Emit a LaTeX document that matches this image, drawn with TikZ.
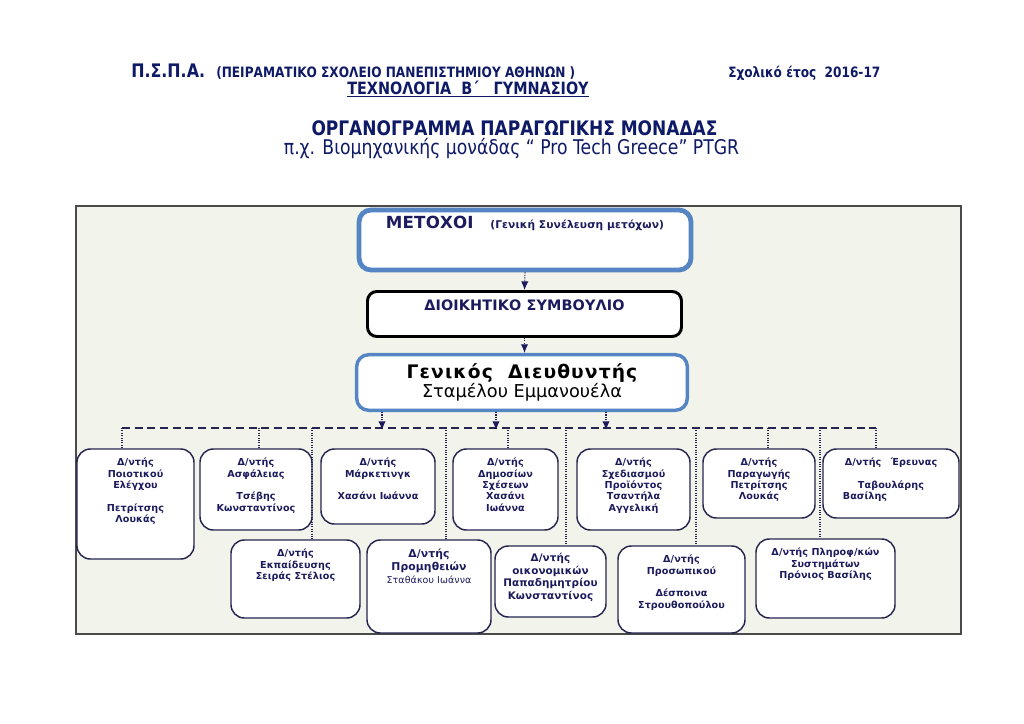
\documentclass[tikz,border=0pt]{standalone}
\usepackage{fontspec}
\setmainfont{DejaVu Sans}
\newfontfamily\boxfont[LetterSpace=1]{DejaVu Sans}
\newfontfamily\widefont[LetterSpace=6]{DejaVu Sans}
\newfontfamily\headfont[FakeStretch=0.85]{DejaVu Sans}
\usepackage{tikz}
\usetikzlibrary{arrows.meta,positioning}
\definecolor{NavyText}{HTML}{1B1B5E}
\definecolor{TitleNavy}{HTML}{0F1A66}
\definecolor{BoxLine}{HTML}{25254F}
\definecolor{BlueFrame}{HTML}{5585C2}
\definecolor{PanelBG}{HTML}{F2F4EB}
\definecolor{PanelLine}{HTML}{4A4A4A}
\tikzset{
  deptbox/.style={draw=BoxLine, line width=1.1pt, rounded corners=10pt, fill=white, inner sep=0pt},
  deptlabel/.style={anchor=north, yshift=-7pt, inner sep=0pt, align=center, text=NavyText,
    font=\boxfont\bfseries\fontsize{7.2}{8.6}\selectfont},
  feed/.style={densely dotted, NavyText, line width=0.8pt, -{Latex[length=6.5pt,width=5.5pt]}},
  bus/.style={dash pattern=on 6pt off 3.5pt, BoxLine, line width=0.9pt},
  drop/.style={densely dotted, BoxLine, line width=0.8pt},
  headtext/.style={inner sep=0pt, text=TitleNavy, font=\headfont\bfseries\fontsize{10.7}{12}\selectfont}
}

\begin{document}
\begin{tikzpicture}[x=0.75pt, y=-0.75pt, every node/.style={text=NavyText}]
  \fill[white] (0,0) rectangle (1024,724);
  \useasboundingbox (0,0) rectangle (1024,724);

  % heading
  \node[headtext, font=\headfont\bfseries\fontsize{14}{16}\selectfont, anchor=base west]
    (pspa) at (131,78) {Π.Σ.Π.Α.};
  \node[headtext, anchor=base west] (school) at (216,78)
    {(ΠΕΙΡΑΜΑΤΙΚΟ ΣΧΟΛΕΙΟ ΠΑΝΕΠΙΣΤΗΜΙΟΥ ΑΘΗΝΩΝ )};
  \node[headtext, anchor=base west] (year) at (728,78) {Σχολικό έτος\ \ 2016-17};
  \node[headtext, font=\headfont\bfseries\fontsize{12.7}{14}\selectfont, anchor=base]
    (tech) at (468,94) {\underline{ΤΕΧΝΟΛΟΓΙΑ\ \ Β΄\ \ \ ΓΥΜΝΑΣΙΟΥ}};
  \node[headtext, font=\headfont\bfseries\fontsize{15}{17}\selectfont, anchor=base]
    (title) at (514.5,135) {ΟΡΓΑΝΟΓΡΑΜΜΑ ΠΑΡΑΓΩΓΙΚΗΣ ΜΟΝΑΔΑΣ};
  \node[headtext, font=\headfont\fontsize{15.2}{17}\selectfont, anchor=base]
    (subtitle) at (511.5,154) {π.χ. Βιομηχανικής μονάδας “ Pro Tech Greece” PTGR};

  \draw[PanelLine, fill=PanelBG, line width=1.2pt] (76,206) rectangle (961,634);

  % top of the chart
  \node[draw=BlueFrame, line width=3.6pt, rounded corners=9pt, fill=white, inner sep=0pt,
    minimum width=249pt, minimum height=45pt,
    label={[anchor=north, yshift=-6.5pt, inner sep=0pt, text=NavyText,
      font=\boxfont\bfseries\fontsize{12.5}{14}\selectfont]north:{ΜΕΤΟΧΟΙ\quad{\fontsize{8}{9}\selectfont(Γενική Συνέλευση μετόχων)}}}]
    (met) at (525,240) {};
  \node[draw=black, line width=2.2pt, rounded corners=7pt, fill=white, inner sep=0pt,
    minimum width=235.5pt, minimum height=33.75pt,
    label={[anchor=north, yshift=-7.5pt, inner sep=0pt, text=NavyText,
      font=\boxfont\bfseries\fontsize{10.8}{12}\selectfont]north:{ΔΙΟΙΚΗΤΙΚΟ ΣΥΜΒΟΥΛΙΟ}}]
    (dioik) at (524.5,314) {};
  \node[draw=BlueFrame, line width=2.6pt, rounded corners=9pt, fill=white, inner sep=0pt,
    minimum width=248pt, minimum height=41.7pt, align=center, text=black,
    font=\widefont\fontsize{14}{14.25}\selectfont]
    (gd) at (522,382.5) {{\bfseries Γενικός\ \ Διευθυντής}\\{\rmfamily\fontsize{13.3}{14}\selectfont Σταμέλου Εμμανουέλα}};

  \draw[feed] (met.south) -- (dioik.north);
  \draw[feed] (dioik.south) -- (dioik.south |- gd.north);

  % departments, first row
  \node[deptbox, minimum width=87.75pt, minimum height=82.5pt,
    label={[deptlabel]north:{Δ/ντής\\Ποιοτικού\\Ελέγχου\\[8.6pt]Πετρίτσης\\Λουκάς}}]
    (p1) at (135.5,504) {};
  \node[deptbox, minimum width=84pt, minimum height=60.75pt,
    label={[deptlabel]north:{Δ/ντής\\Ασφάλειας\\[8.6pt]Τσέβης\\Κωνσταντίνος}}]
    (p2) at (256,489.5) {};
  \node[deptbox, minimum width=85.5pt, minimum height=56.25pt,
    label={[deptlabel]north:{Δ/ντής\\Μάρκετινγκ\\[8.6pt]Χασάνι Ιωάννα}}]
    (p3) at (378,486.5) {};
  \node[deptbox, minimum width=78.75pt, minimum height=60.75pt,
    label={[deptlabel]north:{Δ/ντής\\Δημοσίων\\Σχέσεων\\Χασάνι\\Ιωάννα}}]
    (p4) at (505.5,489.5) {};
  \node[deptbox, minimum width=84.75pt, minimum height=60.75pt,
    label={[deptlabel]north:{Δ/ντής\\Σχεδιασμού\\Προϊόντος\\Τσαντήλα\\Αγγελική}}]
    (p5) at (633.5,489.5) {};
  \node[deptbox, minimum width=84pt, minimum height=51.75pt,
    label={[deptlabel]north:{Δ/ντής\\Παραγωγής\\Πετρίτσης\\Λουκάς}}]
    (p6) at (759,483.5) {};
  \node[deptbox, minimum width=102pt, minimum height=51.75pt,
    label={[deptlabel]north:{Δ/ντής\quad Έρευνας\\[8.6pt]Ταβουλάρης\\Βασίλης\hspace*{39pt}}}]
    (p7) at (891,483.5) {};

  % departments, second row
  \node[deptbox, minimum width=96.75pt, minimum height=58.5pt,
    label={[deptlabel]north:{Δ/ντής\\Εκπαίδευσης\\Σειράς Στέλιος}}]
    (p8) at (295.5,579) {};
  \node[deptbox, minimum width=93pt, minimum height=69.75pt,
    label={[deptlabel, font=\boxfont\bfseries\fontsize{8.1}{9.75}\selectfont]north:{Δ/ντής\\Προμηθειών\\{\mdseries\fontsize{7.1}{8}\selectfont Σταθάκου Ιωάννα}}}]
    (p9) at (429,586.5) {};
  \node[deptbox, minimum width=83.25pt, minimum height=53.25pt,
    label={[deptlabel, yshift=1pt, font=\boxfont\bfseries\fontsize{7.8}{9.4}\selectfont]north:{Δ/ντής\\οικονομικών\\Παπαδημητρίου\\Κωνσταντίνος}}]
    (p10) at (550.5,581.5) {};
  \node[deptbox, minimum width=95.25pt, minimum height=65.25pt,
    label={[deptlabel]north:{Δ/ντής\\Προσωπικού\\[8.6pt]Δέσποινα\\Στρουθοπούλου}}]
    (p11) at (681.5,589.5) {};
  \node[deptbox, minimum width=104.25pt, minimum height=59.25pt,
    label={[deptlabel]north:{Δ/ντής Πληροφ/κών\\Συστημάτων\\Πρόνιος Βασίλης}}]
    (p12) at (825.5,578.5) {};

  % dashed line and the drops to each box
  \coordinate (busL) at (122,428);
  \coordinate (busR) at (876,428);
  \draw[bus] (busL) -- (busR);

  \coordinate (g1) at (382,430);
  \coordinate (g2) at (496,430);
  \coordinate (g3) at (606,430);
  \draw[feed] (g1 |- gd.south) -- (g1);
  \draw[feed] (g2 |- gd.south) -- (g2);
  \draw[feed] (g3 |- gd.south) -- (g3);

  \coordinate (d2) at (259,428);
  \coordinate (d3) at (312,428);
  \coordinate (d4) at (446,428);
  \coordinate (d5) at (508,428);
  \coordinate (d6) at (566,428);
  \coordinate (d7) at (696,428);
  \coordinate (d8) at (768,428);
  \coordinate (d9) at (820,428);
  \draw[drop] (busL) -- (busL |- p1.north);
  \draw[drop] (d2) -- (d2 |- p2.north);
  \draw[drop] (d3) -- (d3 |- p8.north);
  \draw[drop] (d4) -- (d4 |- p9.north);
  \draw[drop] (d5) -- (d5 |- p4.north);
  \draw[drop] (d6) -- (d6 |- p10.north);
  \draw[drop] (d7) -- (d7 |- p11.north);
  \draw[drop] (d8) -- (d8 |- p6.north);
  \draw[drop] (d9) -- (d9 |- p12.north);
  \draw[drop] (busR) -- (busR |- p7.north);
\end{tikzpicture}
\end{document}
